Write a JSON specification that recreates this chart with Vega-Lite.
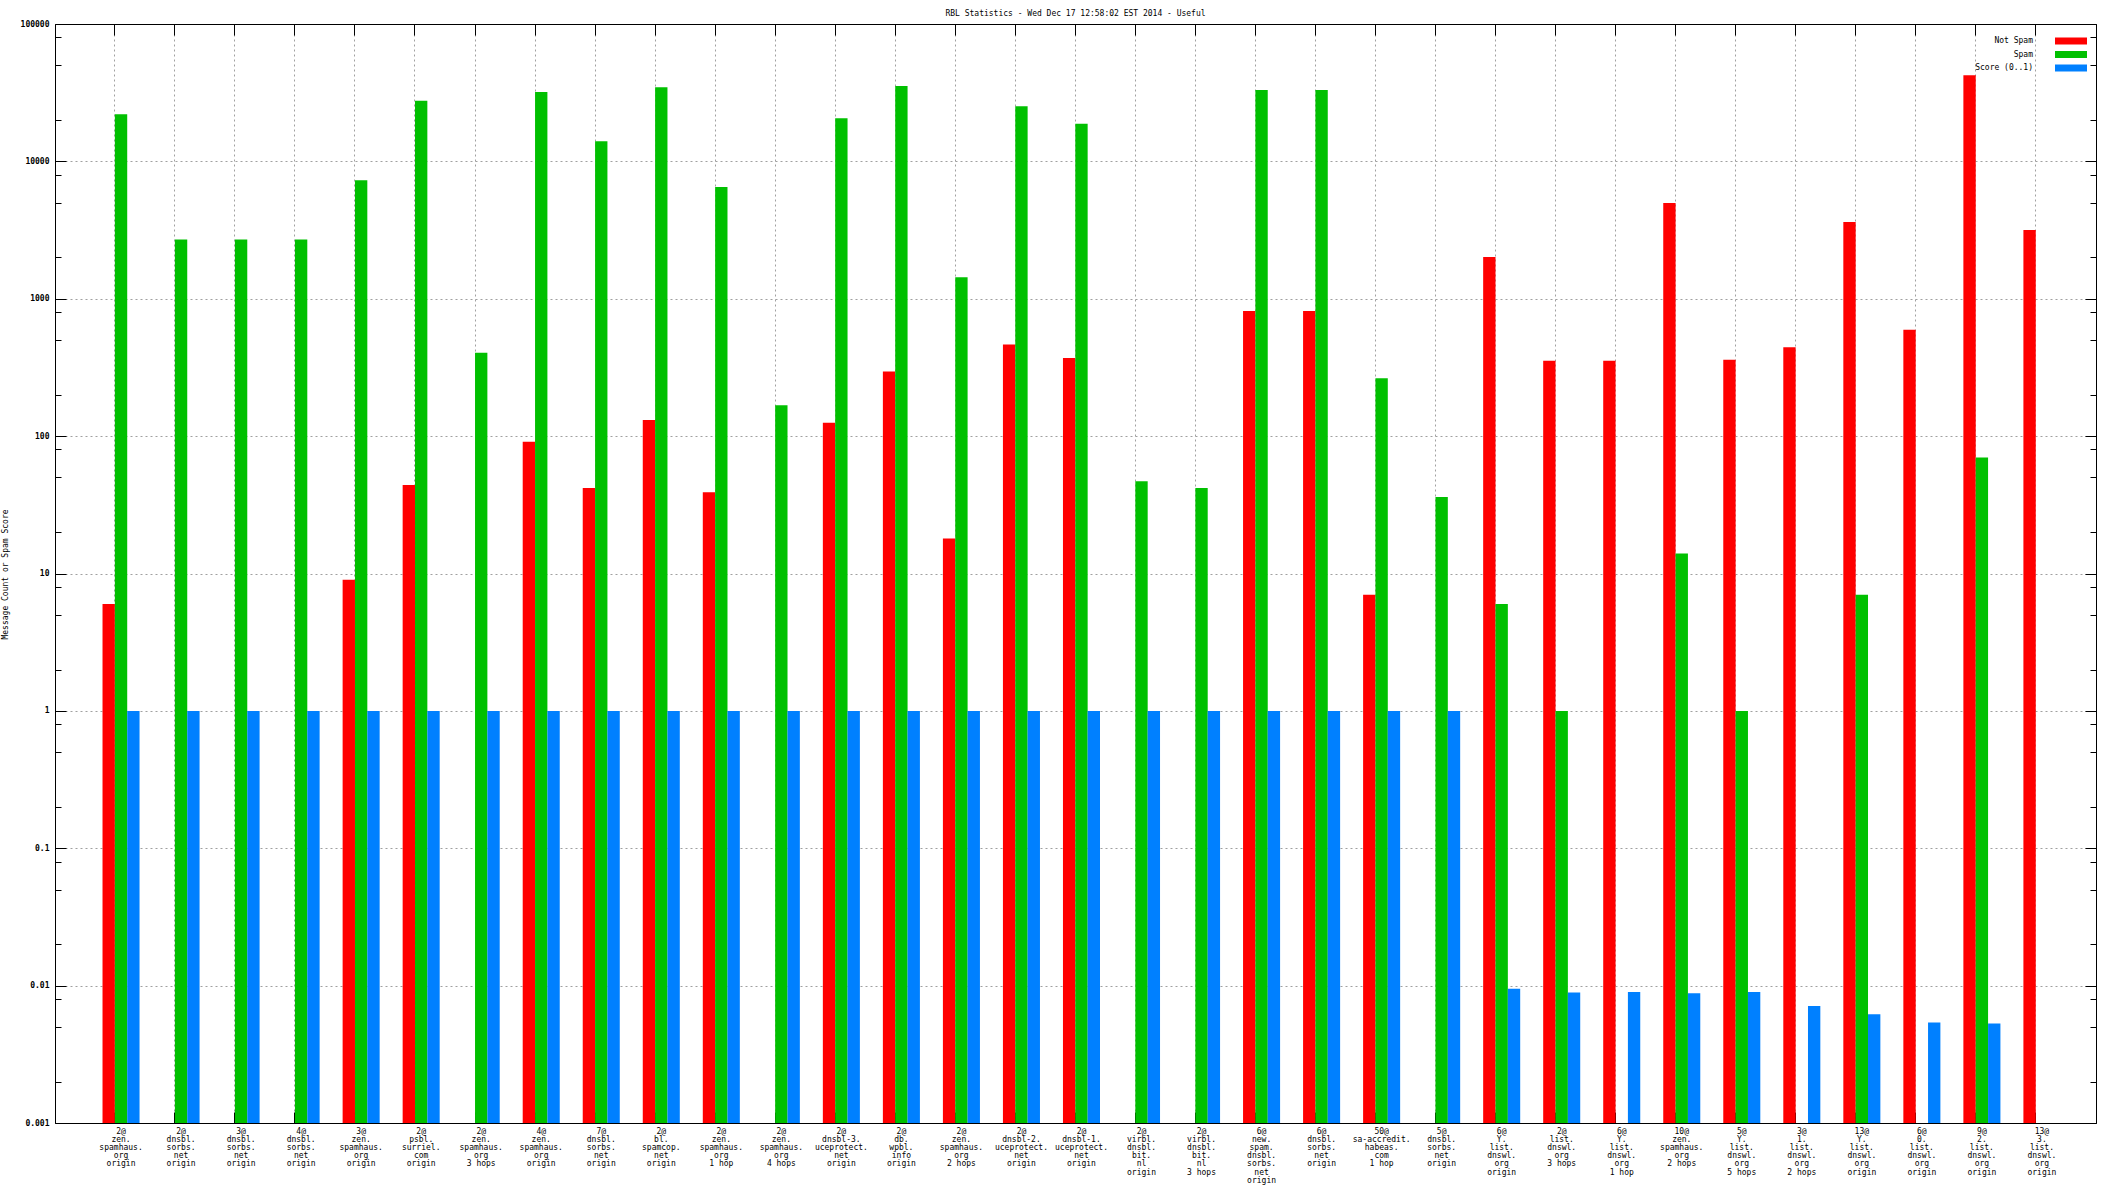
{
"$schema": "https://vega.github.io/schema/vega-lite/v6.json",
"width": 2041, "height": 1099,
"autosize": {"type": "none"},
"padding": {"left": 55, "top": 24, "right": 16, "bottom": 65},
"background": "white",
"title": {"text": "RBL Statistics - Wed Dec 17 12:58:02 EST 2014 - Useful", "font": "DejaVu Sans Mono", "fontSize": 8, "fontWeight": "normal", "color": "black", "anchor": "middle", "offset": 2},
"config": {"view": {"stroke": "black", "strokeWidth": 1}, "font": "DejaVu Sans Mono"},
"data": {"values": [
{"g": "2@|zen.|spamhaus.|org|origin", "s": "Not Spam", "v": 6},
{"g": "2@|zen.|spamhaus.|org|origin", "s": "Spam", "v": 22000},
{"g": "2@|zen.|spamhaus.|org|origin", "s": "Score (0..1)", "v": 1},
{"g": "2@|dnsbl.|sorbs.|net|origin", "s": "Spam", "v": 2700},
{"g": "2@|dnsbl.|sorbs.|net|origin", "s": "Score (0..1)", "v": 1},
{"g": "3@|dnsbl.|sorbs.|net|origin", "s": "Spam", "v": 2700},
{"g": "3@|dnsbl.|sorbs.|net|origin", "s": "Score (0..1)", "v": 1},
{"g": "4@|dnsbl.|sorbs.|net|origin", "s": "Spam", "v": 2700},
{"g": "4@|dnsbl.|sorbs.|net|origin", "s": "Score (0..1)", "v": 1},
{"g": "3@|zen.|spamhaus.|org|origin", "s": "Not Spam", "v": 9},
{"g": "3@|zen.|spamhaus.|org|origin", "s": "Spam", "v": 7300},
{"g": "3@|zen.|spamhaus.|org|origin", "s": "Score (0..1)", "v": 1},
{"g": "2@|psbl.|surriel.|com|origin", "s": "Not Spam", "v": 44},
{"g": "2@|psbl.|surriel.|com|origin", "s": "Spam", "v": 27600},
{"g": "2@|psbl.|surriel.|com|origin", "s": "Score (0..1)", "v": 1},
{"g": "2@|zen.|spamhaus.|org|3 hops", "s": "Spam", "v": 405},
{"g": "2@|zen.|spamhaus.|org|3 hops", "s": "Score (0..1)", "v": 1},
{"g": "4@|zen.|spamhaus.|org|origin", "s": "Not Spam", "v": 91},
{"g": "4@|zen.|spamhaus.|org|origin", "s": "Spam", "v": 32000},
{"g": "4@|zen.|spamhaus.|org|origin", "s": "Score (0..1)", "v": 1},
{"g": "7@|dnsbl.|sorbs.|net|origin", "s": "Not Spam", "v": 42},
{"g": "7@|dnsbl.|sorbs.|net|origin", "s": "Spam", "v": 14000},
{"g": "7@|dnsbl.|sorbs.|net|origin", "s": "Score (0..1)", "v": 1},
{"g": "2@|bl.|spamcop.|net|origin", "s": "Not Spam", "v": 131},
{"g": "2@|bl.|spamcop.|net|origin", "s": "Spam", "v": 34600},
{"g": "2@|bl.|spamcop.|net|origin", "s": "Score (0..1)", "v": 1},
{"g": "2@|zen.|spamhaus.|org|1 hop", "s": "Not Spam", "v": 39},
{"g": "2@|zen.|spamhaus.|org|1 hop", "s": "Spam", "v": 6500},
{"g": "2@|zen.|spamhaus.|org|1 hop", "s": "Score (0..1)", "v": 1},
{"g": "2@|zen.|spamhaus.|org|4 hops", "s": "Spam", "v": 168},
{"g": "2@|zen.|spamhaus.|org|4 hops", "s": "Score (0..1)", "v": 1},
{"g": "2@|dnsbl-3.|uceprotect.|net|origin", "s": "Not Spam", "v": 125},
{"g": "2@|dnsbl-3.|uceprotect.|net|origin", "s": "Spam", "v": 20600},
{"g": "2@|dnsbl-3.|uceprotect.|net|origin", "s": "Score (0..1)", "v": 1},
{"g": "2@|db.|wpbl.|info|origin", "s": "Not Spam", "v": 296},
{"g": "2@|db.|wpbl.|info|origin", "s": "Spam", "v": 35400},
{"g": "2@|db.|wpbl.|info|origin", "s": "Score (0..1)", "v": 1},
{"g": "2@|zen.|spamhaus.|org|2 hops", "s": "Not Spam", "v": 18},
{"g": "2@|zen.|spamhaus.|org|2 hops", "s": "Spam", "v": 1435},
{"g": "2@|zen.|spamhaus.|org|2 hops", "s": "Score (0..1)", "v": 1},
{"g": "2@|dnsbl-2.|uceprotect.|net|origin", "s": "Not Spam", "v": 464},
{"g": "2@|dnsbl-2.|uceprotect.|net|origin", "s": "Spam", "v": 25200},
{"g": "2@|dnsbl-2.|uceprotect.|net|origin", "s": "Score (0..1)", "v": 1},
{"g": "2@|dnsbl-1.|uceprotect.|net|origin", "s": "Not Spam", "v": 370},
{"g": "2@|dnsbl-1.|uceprotect.|net|origin", "s": "Spam", "v": 18800},
{"g": "2@|dnsbl-1.|uceprotect.|net|origin", "s": "Score (0..1)", "v": 1},
{"g": "2@|virbl.|dnsbl.|bit.|nl|origin", "s": "Spam", "v": 47},
{"g": "2@|virbl.|dnsbl.|bit.|nl|origin", "s": "Score (0..1)", "v": 1},
{"g": "2@|virbl.|dnsbl.|bit.|nl|3 hops", "s": "Spam", "v": 42},
{"g": "2@|virbl.|dnsbl.|bit.|nl|3 hops", "s": "Score (0..1)", "v": 1},
{"g": "6@|new.|spam.|dnsbl.|sorbs.|net|origin", "s": "Not Spam", "v": 816},
{"g": "6@|new.|spam.|dnsbl.|sorbs.|net|origin", "s": "Spam", "v": 33100},
{"g": "6@|new.|spam.|dnsbl.|sorbs.|net|origin", "s": "Score (0..1)", "v": 1},
{"g": "6@|dnsbl.|sorbs.|net|origin", "s": "Not Spam", "v": 816},
{"g": "6@|dnsbl.|sorbs.|net|origin", "s": "Spam", "v": 33100},
{"g": "6@|dnsbl.|sorbs.|net|origin", "s": "Score (0..1)", "v": 1},
{"g": "50@|sa-accredit.|habeas.|com|1 hop", "s": "Not Spam", "v": 7},
{"g": "50@|sa-accredit.|habeas.|com|1 hop", "s": "Spam", "v": 264},
{"g": "50@|sa-accredit.|habeas.|com|1 hop", "s": "Score (0..1)", "v": 1},
{"g": "5@|dnsbl.|sorbs.|net|origin", "s": "Spam", "v": 36},
{"g": "5@|dnsbl.|sorbs.|net|origin", "s": "Score (0..1)", "v": 1},
{"g": "6@|Y.|list.|dnswl.|org|origin", "s": "Not Spam", "v": 2014},
{"g": "6@|Y.|list.|dnswl.|org|origin", "s": "Spam", "v": 6},
{"g": "6@|Y.|list.|dnswl.|org|origin", "s": "Score (0..1)", "v": 0.0095},
{"g": "2@|list.|dnswl.|org|3 hops", "s": "Not Spam", "v": 354},
{"g": "2@|list.|dnswl.|org|3 hops", "s": "Spam", "v": 1},
{"g": "2@|list.|dnswl.|org|3 hops", "s": "Score (0..1)", "v": 0.0089},
{"g": "6@|Y.|list.|dnswl.|org|1 hop", "s": "Not Spam", "v": 354},
{"g": "6@|Y.|list.|dnswl.|org|1 hop", "s": "Score (0..1)", "v": 0.009},
{"g": "10@|zen.|spamhaus.|org|2 hops", "s": "Not Spam", "v": 4970},
{"g": "10@|zen.|spamhaus.|org|2 hops", "s": "Spam", "v": 14},
{"g": "10@|zen.|spamhaus.|org|2 hops", "s": "Score (0..1)", "v": 0.0088},
{"g": "5@|Y.|list.|dnswl.|org|5 hops", "s": "Not Spam", "v": 360},
{"g": "5@|Y.|list.|dnswl.|org|5 hops", "s": "Spam", "v": 1},
{"g": "5@|Y.|list.|dnswl.|org|5 hops", "s": "Score (0..1)", "v": 0.009},
{"g": "3@|1.|list.|dnswl.|org|2 hops", "s": "Not Spam", "v": 444},
{"g": "3@|1.|list.|dnswl.|org|2 hops", "s": "Score (0..1)", "v": 0.0071},
{"g": "13@|Y.|list.|dnswl.|org|origin", "s": "Not Spam", "v": 3620},
{"g": "13@|Y.|list.|dnswl.|org|origin", "s": "Spam", "v": 7},
{"g": "13@|Y.|list.|dnswl.|org|origin", "s": "Score (0..1)", "v": 0.0062},
{"g": "6@|0.|list.|dnswl.|org|origin", "s": "Not Spam", "v": 596},
{"g": "6@|0.|list.|dnswl.|org|origin", "s": "Score (0..1)", "v": 0.0054},
{"g": "9@|2.|list.|dnswl.|org|origin", "s": "Not Spam", "v": 42400},
{"g": "9@|2.|list.|dnswl.|org|origin", "s": "Spam", "v": 70},
{"g": "9@|2.|list.|dnswl.|org|origin", "s": "Score (0..1)", "v": 0.0053},
{"g": "13@|3.|list.|dnswl.|org|origin", "s": "Not Spam", "v": 3160}
]},
"layer": [
{
"mark": {"type": "bar"},
"encoding": {
"x": {"field": "g", "type": "nominal", "sort": null,
 "scale": {"paddingInner": 0.383, "paddingOuter": 0.692, "align": 0.572},
 "axis": {"orient": "bottom", "title": null, "labelAngle": 0, "labelExpr": "split(datum.value, '|')", "labelFont": "DejaVu Sans Mono", "labelFontSize": 8, "labelLineHeight": 8.2, "labelBaseline": "top", "labelPadding": 15, "labelColor": "black", "labelOverlap": false, "labelLimit": 0, "tickSize": -11, "tickColor": "black", "domainColor": "black", "grid": true, "gridColor": "#a0a0a0", "gridDash": [2, 3], "bandPosition": 0.333}},
"xOffset": {"field": "s", "type": "nominal", "scale": {"domain": ["Not Spam", "Spam", "Score (0..1)"], "paddingInner": 0, "paddingOuter": 0}},
"y": {"field": "v", "type": "quantitative", "stack": null,
 "scale": {"type": "log", "domain": [0.001, 100000], "nice": false},
 "axis": {"orient": "left",
  "values": [0.001, 0.002, 0.005, 0.008, 0.01, 0.02, 0.05, 0.08, 0.1, 0.2, 0.5, 0.8, 1, 2, 5, 8, 10, 20, 50, 80, 100, 200, 500, 800, 1000, 2000, 5000, 8000, 10000, 20000, 50000, 80000, 100000],
  "format": "~g",
  "labelExpr": "abs(log(datum.value)/LN10 - round(log(datum.value)/LN10)) < 0.001 ? datum.label : ''",
  "tickSize": {"condition": {"test": "abs(log(datum.value)/LN10 - round(log(datum.value)/LN10)) < 0.001", "value": -11}, "value": -6},
  "grid": true,
  "gridOpacity": {"condition": {"test": "abs(log(datum.value)/LN10 - round(log(datum.value)/LN10)) < 0.001", "value": 1}, "value": 0},
  "gridColor": "#a0a0a0", "gridDash": [2, 3],
  "labelFont": "DejaVu Sans Mono", "labelFontSize": 8, "labelFontWeight": "bold", "labelPadding": 17, "labelColor": "black", "labelOverlap": false,
  "tickColor": "black", "domainColor": "black",
  "title": "Message Count or Spam Score", "titleFont": "DejaVu Sans Mono", "titleFontSize": 8, "titleFontWeight": "normal", "titleColor": "black",
  "titleX": -50, "titleY": 550, "titleAngle": -90, "titleAlign": "center", "titleBaseline": "middle"}},
"color": {"field": "s", "type": "nominal",
 "scale": {"domain": ["Not Spam", "Spam", "Score (0..1)"], "range": ["#ff0000", "#00c000", "#0080ff"]},
 "legend": {"orient": "none", "legendX": 2011, "legendY": 12, "title": null, "padding": 0,
  "symbolType": "M-3.2,-0.7H3.2V0.7H-3.2Z", "symbolSize": 100, "symbolStrokeWidth": 0, "symbolOpacity": 1,
  "labelAlign": "right", "labelOffset": -43, "labelFont": "DejaVu Sans Mono", "labelFontSize": 8, "labelColor": "black", "rowPadding": 4.5}}
}
},
{
"mark": {"type": "bar", "opacity": 0},
"encoding": {
"x": {"field": "g", "type": "nominal", "sort": null,
 "axis": {"orient": "top", "title": null, "labels": false, "grid": false, "tickSize": -11, "tickColor": "black", "domainColor": "black", "bandPosition": 0.333}},
"y": {"field": "v", "type": "quantitative", "stack": null,
 "axis": {"orient": "right", "title": null, "labels": false, "grid": false,
  "values": [0.001, 0.002, 0.005, 0.008, 0.01, 0.02, 0.05, 0.08, 0.1, 0.2, 0.5, 0.8, 1, 2, 5, 8, 10, 20, 50, 80, 100, 200, 500, 800, 1000, 2000, 5000, 8000, 10000, 20000, 50000, 80000, 100000],
  "tickSize": {"condition": {"test": "abs(log(datum.value)/LN10 - round(log(datum.value)/LN10)) < 0.001", "value": -11}, "value": -6},
  "tickColor": "black", "domainColor": "black"}}
}
}
],
"resolve": {"axis": {"x": "independent", "y": "independent"}}
}
